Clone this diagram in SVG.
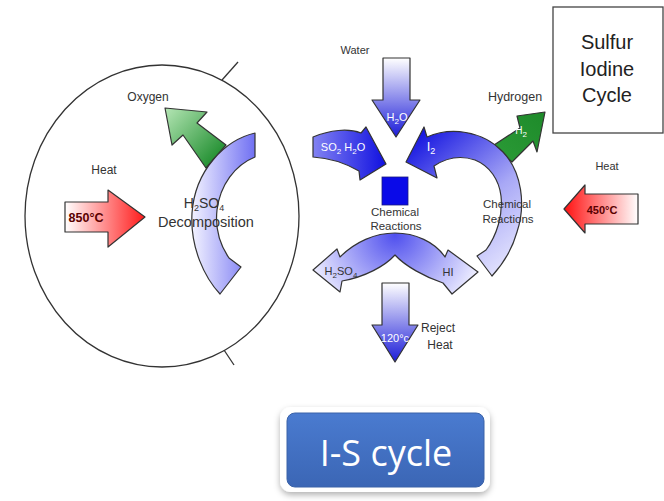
<svg xmlns="http://www.w3.org/2000/svg" width="664" height="501" viewBox="0 0 664 501">
<defs>
  <style>
    text { font-family: "Liberation Sans", Arial, sans-serif; }
    .lbl { font-size: 12px; fill: #333; text-anchor: middle; }
    .wt { font-size: 12px; fill: #ffffff; text-anchor: middle; }
    .ol { stroke: #333; stroke-width: 1.2; stroke-linejoin: round; }
    .sub { font-size: 8px; }
    .btn { font-family: "Open Sans", sans-serif; font-size: 36px; fill: #ffffff; text-anchor: middle; }
  </style>
  <linearGradient id="gRedR" x1="65" y1="0" x2="145" y2="0" gradientUnits="userSpaceOnUse">
    <stop offset="0" stop-color="#ffffff"/><stop offset="1" stop-color="#ff1a1a"/>
  </linearGradient>
  <linearGradient id="gRedL" x1="564" y1="0" x2="638" y2="0" gradientUnits="userSpaceOnUse">
    <stop offset="0" stop-color="#ff1010"/><stop offset="1" stop-color="#ffffff"/>
  </linearGradient>
  <linearGradient id="gArcL" x1="192" y1="0" x2="258" y2="0" gradientUnits="userSpaceOnUse">
    <stop offset="0" stop-color="#f2f2ff"/><stop offset="1" stop-color="#6a6af2"/>
  </linearGradient>
  <linearGradient id="gDown" x1="0" y1="0" x2="0" y2="1">
    <stop offset="0" stop-color="#ffffff"/><stop offset="1" stop-color="#1c1cd8"/>
  </linearGradient>
  <linearGradient id="gSO2" x1="313" y1="0" x2="386" y2="0" gradientUnits="userSpaceOnUse">
    <stop offset="0" stop-color="#8282f2"/><stop offset="1" stop-color="#1010e0"/>
  </linearGradient>
  <linearGradient id="gArcR" x1="410" y1="140" x2="520" y2="270" gradientUnits="userSpaceOnUse">
    <stop offset="0" stop-color="#1414e0"/><stop offset="0.55" stop-color="#a8a8f6"/><stop offset="1" stop-color="#ececff"/>
  </linearGradient>
  <radialGradient id="gSplit" cx="395" cy="235" r="90" gradientUnits="userSpaceOnUse">
    <stop offset="0" stop-color="#5050ee"/><stop offset="1" stop-color="#eeeeff"/>
  </radialGradient>
  <linearGradient id="gGreenO" x1="165" y1="108" x2="220" y2="160" gradientUnits="userSpaceOnUse">
    <stop offset="0" stop-color="#b5e6b5"/><stop offset="1" stop-color="#1c8c2c"/>
  </linearGradient>
  <linearGradient id="gGreenH" x1="545" y1="112" x2="500" y2="160" gradientUnits="userSpaceOnUse">
    <stop offset="0" stop-color="#1e8a2a"/><stop offset="1" stop-color="#2a9a36"/>
  </linearGradient>
  <linearGradient id="gBtn" x1="0" y1="0" x2="0" y2="1">
    <stop offset="0" stop-color="#4a7bd0"/><stop offset="1" stop-color="#3b66b5"/>
  </linearGradient>
  <filter id="shadow" x="-10%" y="-20%" width="120%" height="150%">
    <feDropShadow dx="0" dy="3" stdDeviation="3" flood-color="#000" flood-opacity="0.3"/>
  </filter>
</defs>
<rect width="664" height="501" fill="#ffffff"/>

<g id="reactor">
  <ellipse cx="162" cy="216" rx="137" ry="151" fill="none" stroke="#333" stroke-width="1.3"/>
  <line x1="222" y1="80" x2="238" y2="62" stroke="#333" stroke-width="1.3"/>
  <line x1="224" y1="350" x2="234" y2="365" stroke="#333" stroke-width="1.3"/>
</g>

<g id="connectors">
  <!-- oxygen arrow -->
  <path class="ol" fill="url(#gGreenO)" d="M165,108 L207,112 L197,123 L226,145 L206,168 L183,135 L172,145 Z"/>
  <!-- hydrogen arrow -->
  <path class="ol" fill="url(#gGreenH)" d="M545,112 L537,152 L533,141 L512,162 L494,145 L520,128 L517,116 Z"/>
  <!-- heat 850 -->
  <path class="ol" fill="url(#gRedR)" d="M65,202 L108,202 L108,190 L145,217 L108,247 L108,232 L65,232 Z"/>
  <!-- heat 450 -->
  <path class="ol" fill="url(#gRedL)" d="M564,209 L585,185 L585,194 L638,194 L638,224 L585,224 L585,233 Z"/>
  <!-- water down arrow -->
  <path class="ol" fill="url(#gDown)" d="M383,58 L410,58 L410,100 L420,100 L396,137 L372,100 L383,100 Z"/>
  <!-- SO2 H2O arrow -->
  <path class="ol" fill="url(#gSO2)" d="M313,137 C330,130 348,128 361,133 L366,127 L386,164 L360,180 L359,171 C345,163 330,158 313,157 Z"/>
  <!-- right ring with I2 head -->
  <path class="ol" fill="url(#gArcR)" d="M406,162 L424,127 L427,137 C450,127 482,130 503,152 C522,172 526,205 517,232 C512,250 503,264 492,276 L477,256 L486,250 C497,235 503,215 501,196 C499,180 490,166 475,160 C460,155 446,158 434,166 L437,178 Z"/>
  <!-- left ring H2SO4 decomposition -->
  <path class="ol" fill="url(#gArcL)" d="M255,133 C225,140 195,170 192,213 C190,248 205,278 220,294 L241,267 L229,258 C220,245 215,228 217,210 C220,185 235,165 255,157 Z"/>
  <!-- split arrow -->
  <path class="ol" fill="url(#gSplit)" d="M313,270 L337,249 L340,257 C355,242 375,233 395,233 C415,233 435,242 445,257 L448,250 L478,272 L452,294 L443,283 C425,277 405,266 395,255 C385,266 365,277 342,281 L340,292 Z"/>
  <!-- reject heat down arrow -->
  <path class="ol" fill="url(#gDown)" d="M382,283 L409,283 L409,325 L418,325 L395,362 L372,325 L382,325 Z"/>
</g>

<g id="node-heat-left">
  <text class="lbl" x="104" y="174" font-size="12.5">Heat</text>
  <text x="86" y="222" font-size="12.5" font-weight="bold" fill="#5a0000" text-anchor="middle">850°C</text>
</g>
<g id="node-oxygen">
  <text class="lbl" x="148" y="101" font-size="12.5">Oxygen</text>
</g>
<g id="node-decomposition">
  <text class="lbl" x="204" y="208" style="font-size:14px">H<tspan class="sub" dy="3" style="font-size:9px">2</tspan><tspan dy="-3">SO</tspan><tspan class="sub" dy="3" style="font-size:9px">4</tspan></text>
  <text class="lbl" x="206" y="227" style="font-size:14.5px">Decomposition</text>
</g>
<g id="node-water">
  <text class="lbl" x="355" y="54" style="font-size:11px">Water</text>
  <text class="wt" x="397" y="121" style="font-size:11px">H<tspan class="sub" dy="3">2</tspan><tspan dy="-3">O</tspan></text>
</g>
<g id="node-so2">
  <text class="wt" x="343" y="151" style="font-size:11px">SO<tspan class="sub" dy="3">2</tspan><tspan dy="-3"> H</tspan><tspan class="sub" dy="3">2</tspan><tspan dy="-3">O</tspan></text>
</g>
<g id="node-i2">
  <text class="wt" x="431" y="151" style="font-size:13px">I<tspan class="sub" dy="3" style="font-size:9px">2</tspan></text>
</g>
<g id="node-center">
  <rect x="382" y="177" width="26" height="28" fill="#0a0ae8" stroke="#1a1a80" stroke-width="0.8"/>
  <text class="lbl" x="395" y="216" style="font-size:11.5px">Chemical</text>
  <text class="lbl" x="396" y="230" style="font-size:11.5px">Reactions</text>
</g>
<g id="node-hydrogen">
  <text class="lbl" x="515" y="101" style="font-size:12.5px">Hydrogen</text>
  <text class="wt" x="521" y="134" style="font-size:10px">H<tspan class="sub" dy="3">2</tspan></text>
</g>
<g id="node-right-reactions">
  <text class="lbl" x="507" y="208" style="font-size:11.5px">Chemical</text>
  <text class="lbl" x="508" y="223" style="font-size:11.5px">Reactions</text>
</g>
<g id="node-heat-right">
  <text class="lbl" x="607" y="170" style="font-size:11px">Heat</text>
  <text x="602" y="214" font-size="11" font-weight="bold" fill="#5a0000" text-anchor="middle">450°C</text>
</g>
<g id="node-products">
  <text class="lbl" x="341" y="275" style="font-size:11px">H<tspan class="sub" dy="3">2</tspan><tspan dy="-3">SO</tspan><tspan class="sub" dy="3">4</tspan></text>
  <text class="lbl" x="448" y="276" style="font-size:11px">HI</text>
</g>
<g id="node-reject">
  <text class="wt" x="395" y="342" style="font-size:11px">120°c</text>
  <text class="lbl" x="438" y="332">Reject</text>
  <text class="lbl" x="440" y="349">Heat</text>
</g>
<g id="node-title">
  <rect x="553" y="7" width="110" height="126" fill="#ffffff" stroke="#444" stroke-width="1.3"/>
  <text x="607" y="49" font-size="20" fill="#222" text-anchor="middle">Sulfur</text>
  <text x="607" y="76" font-size="20" fill="#222" text-anchor="middle">Iodine</text>
  <text x="607" y="102" font-size="20" fill="#222" text-anchor="middle">Cycle</text>
</g>
<g id="node-button">
  <rect x="280" y="407" width="210" height="85" rx="11" fill="#ffffff" filter="url(#shadow)"/>
  <rect x="287" y="413" width="197" height="74" rx="8" fill="url(#gBtn)" stroke="#3a62a8" stroke-width="1"/>
  <text class="btn" x="386" y="466">I-S cycle</text>
</g>
</svg>
